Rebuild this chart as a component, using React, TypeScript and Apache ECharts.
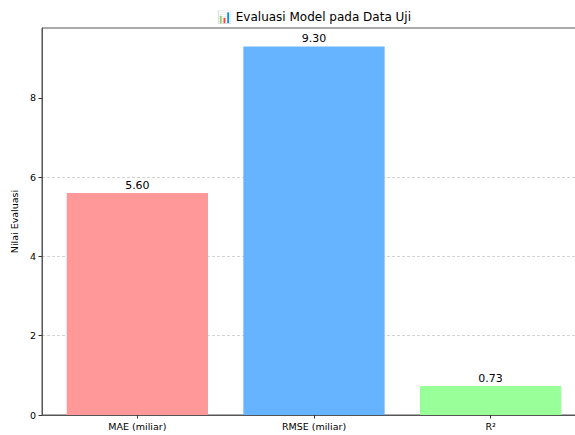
import React, { useEffect, useRef } from "react";
import * as echarts from "echarts";

const titleText = "📊 Evaluasi Model pada Data Uji";
const yAxisName = "Nilai Evaluasi";
const categories = ["MAE (miliar)", "RMSE (miliar)", "R²"];
const values = [5.6, 9.3, 0.73];
const barColors = ["#ff9999", "#66b3ff", "#99ff99"];
const yTicks = [0, 2, 4, 6, 8];
const xTicks = [0, 1, 2];

export default function App() {
  const ref = useRef<HTMLDivElement>(null);
  useEffect(() => {
    if (!ref.current) return;
    document.body.style.overflow = "hidden";
    const chart = echarts.init(ref.current, null, { renderer: "svg" });
    const font = "DejaVu Sans";
    chart.setOption({
      animation: false,
      backgroundColor: "#ffffff",
      textStyle: { fontFamily: font },
      graphic: [
        {
          type: "text",
          x: 314,
          y: 17,
          style: {
            text: titleText,
            textAlign: "center",
            textVerticalAlign: "middle",
            fontFamily: font,
            fontSize: 12,
            fill: "#000",
          },
        },
      ],
      grid: {
        left: 42,
        top: 28,
        right: 14,
        bottom: 20,
        show: true,
        borderColor: "#555",
        borderWidth: 1,
        backgroundColor: "transparent",
      },
      xAxis: {
        type: "value",
        min: -0.54,
        max: 2.54,
        axisLine: { show: true, onZero: false, lineStyle: { color: "#555", width: 1 } },
        axisTick: {
          show: true,
          customValues: xTicks,
          length: 3.5,
          lineStyle: { color: "#333" },
        },
        axisLabel: {
          show: true,
          customValues: xTicks,
          formatter: (v: number) => categories[Math.round(v)] ?? "",
          fontFamily: font,
          fontSize: 9.5,
          color: "#000",
          margin: 6,
        },
        splitLine: { show: false },
      },
      yAxis: {
        type: "value",
        min: 0,
        max: Math.max(...values) * 1.05,
        name: yAxisName,
        nameLocation: "middle",
        nameGap: 19,
        nameTextStyle: { fontFamily: font, fontSize: 9.5, color: "#000" },
        axisLine: { show: true, onZero: false, lineStyle: { color: "#555", width: 1 } },
        axisTick: {
          show: true,
          customValues: yTicks,
          length: 3.5,
          lineStyle: { color: "#333" },
        },
        axisLabel: {
          show: true,
          customValues: yTicks,
          fontFamily: font,
          fontSize: 9.5,
          color: "#000",
          margin: 6,
        },
        interval: 2,
        splitLine: {
          show: true,
          showMaxLine: false,
          lineStyle: { color: "#c8c8c8", type: [3, 2], width: 0.8 },
        },
      },
      series: [
        {
          type: "bar",
          barWidth: "80%",
          data: values.map((v, i) => ({
            value: [i, v],
            itemStyle: { color: barColors[i] },
          })),
          label: {
            show: true,
            position: "top",
            distance: 2,
            formatter: (p: any) => p.value[1].toFixed(2),
            fontFamily: font,
            fontSize: 11,
            color: "#000",
          },
        },
      ],
    });
    return () => chart.dispose();
  }, []);
  return (
    <div
      style={{
        position: "fixed",
        left: 0,
        top: 0,
        width: 575,
        height: 435,
        overflow: "hidden",
        background: "#fff",
      }}
    >
      <div ref={ref} style={{ width: 600, height: 435 }} />
    </div>
  );
}
